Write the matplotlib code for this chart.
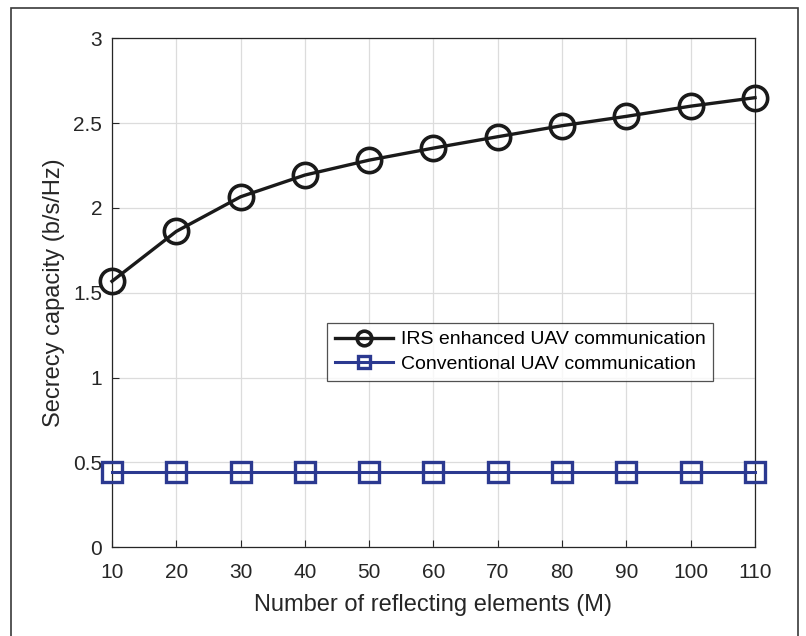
import matplotlib
matplotlib.use("Agg")
import matplotlib.pyplot as plt
from matplotlib.patches import Rectangle

plt.rcParams['font.family'] = ['Liberation Sans', 'DejaVu Sans']

# data
M = [10, 20, 30, 40, 50, 60, 70, 80, 90, 100, 110]
irs = [1.568, 1.862, 2.066, 2.194, 2.282, 2.353, 2.42, 2.485, 2.54, 2.60, 2.65]
conv = [0.443] * 11
xticks = [10, 20, 30, 40, 50, 60, 70, 80, 90, 100, 110]
yticks = [0, 0.5, 1, 1.5, 2, 2.5, 3]

fig = plt.figure(figsize=(8.06, 6.36), dpi=100)
ax = fig.add_axes([112 / 806, 1 - 547.3 / 636, (755 - 112) / 806, (547.3 - 38.3) / 636])

# outer frame around the figure
fig.patches.append(Rectangle((10.5 / 806, -0.05), (798 - 10.5) / 806, 1.05 - 8 / 636,
                             transform=fig.transFigure, fill=False,
                             edgecolor='#3a3a3a', linewidth=1.2))

ax.plot(M, irs, '-o', color='#1a1a1a', linewidth=2.4, markersize=17.5,
        markerfacecolor='none', markeredgewidth=2.6,
        label='IRS enhanced UAV communication', clip_on=False, zorder=3)
ax.plot(M, conv, '-s', color='#2b3990', linewidth=2.2, markersize=14,
        markerfacecolor='none', markeredgewidth=2.4,
        label='Conventional UAV communication', clip_on=False, zorder=3)

ax.set_xlim(10, 110)
ax.set_ylim(0, 3)
ax.set_xticks(xticks)
ax.set_yticks(yticks)
ax.set_yticklabels(['0', '0.5', '1', '1.5', '2', '2.5', '3'])
ax.grid(True, color='#dcdcdc', linewidth=0.9)
ax.set_axisbelow(True)
ax.tick_params(direction='in', length=5, labelsize=15, colors='#262626', pad=7)
ax.tick_params(axis='x', pad=11)
for s in ax.spines.values():
    s.set_color('#262626')
    s.set_linewidth(0.9)

ax.set_xlabel('Number of reflecting elements (M)', fontsize=17, color='#262626', labelpad=9)
ax.set_ylabel('Secrecy capacity (b/s/Hz)', fontsize=17, color='#262626', labelpad=6)

leg = ax.legend(loc='upper left', bbox_to_anchor=((327 - 112) / 643, 1 - (323 - 38.3) / 509),
                fontsize=14, frameon=True, fancybox=False, edgecolor='#262626',
                handlelength=3.0, borderpad=0.4, labelspacing=0.35, handletextpad=0.4,
                borderaxespad=0, markerscale=0.6)
leg.get_frame().set_linewidth(0.9)

fig.savefig('out.png', dpi=100)
